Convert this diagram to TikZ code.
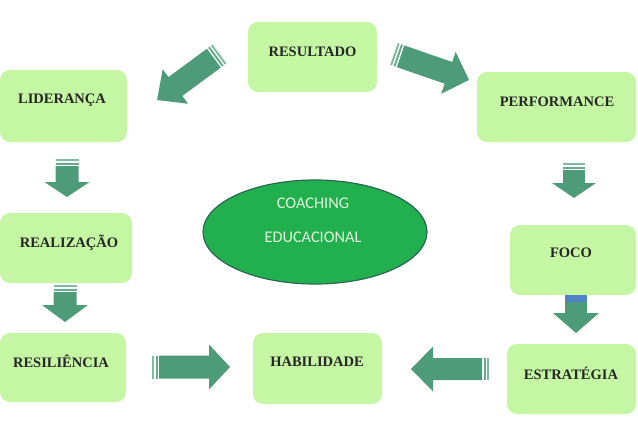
\documentclass[tikz,border=0pt]{standalone}
\usepackage{fontspec}
\usetikzlibrary{shapes.geometric}
\setmainfont{Liberation Serif}
\newfontfamily\calibrifont{Carlito}
\definecolor{boxfill}{RGB}{196,246,163}
\definecolor{arrowc}{RGB}{78,155,122}
\definecolor{ellfill}{RGB}{34,176,78}
\definecolor{elldraw}{RGB}{40,105,85}
\definecolor{elltext}{RGB}{222,244,220}
\definecolor{bluebar}{RGB}{80,130,200}
\tikzset{
  greenbox/.style={fill=boxfill, draw=none, rounded corners=10pt, inner sep=0pt},
  boxlabel/.style={font=\bfseries\fontsize{14.5}{17}\selectfont, text=black!85, inner sep=0pt},
  elllabel/.style={font=\calibrifont\fontsize{16.3}{19}\selectfont, text=elltext, inner sep=0pt}
}
% #1 x, #2 y (tail centre), #3 angle, #4 length, #5 shaft half width, #6 head half width, #7 head length
\newcommand\blockarrow[7]{%
  \begin{scope}[shift={(#1,#2)},rotate=#3]
    \fill[arrowc!70] (0,-#5) rectangle (2,#5);
    \fill[arrowc!85] (3.5,-#5) rectangle (5.5,#5);
    \fill[arrowc] (7,-#5) -- ({#4-#7},-#5) -- ({#4-#7},-#6) -- (#4,0)
      -- ({#4-#7},#6) -- ({#4-#7},#5) -- (7,#5) -- cycle;
  \end{scope}}
\begin{document}
\begin{tikzpicture}[x=1pt,y=-1pt]
\useasboundingbox (0,0) rectangle (638,432);
% boxes
\node[greenbox, minimum width=129pt, minimum height=70pt] (resultado) at (312.5,57) {};
\node[boxlabel] (resultadot) at (312.5,52) {RESULTADO};
\node[greenbox, minimum width=127pt, minimum height=72pt] (lideranca) at (63.5,106) {};
\node[boxlabel] (liderancat) at (62,100) {LIDERANÇA};
\node[greenbox, minimum width=159pt, minimum height=70pt] (performance) at (556.5,107) {};
\node[boxlabel] (performancet) at (557,102) {PERFORMANCE};
\node[greenbox, minimum width=132pt, minimum height=70pt] (realizacao) at (66,248) {};
\node[boxlabel] (realizacaot) at (69,243) {REALIZAÇÃO};
\node[greenbox, minimum width=126pt, minimum height=70pt] (foco) at (573,260) {};
\node[boxlabel] (focot) at (571,253) {FOCO};
\node[greenbox, minimum width=126pt, minimum height=69pt] (resiliencia) at (63,367.5) {};
\node[boxlabel] (resilienciat) at (61,361) {RESILIÊNCIA};
\node[greenbox, minimum width=129pt, minimum height=71pt] (habilidade) at (317.5,368.5) {};
\node[boxlabel] (habilidadet) at (317,362) {HABILIDADE};
\node[greenbox, minimum width=129pt, minimum height=70pt] (estrategia) at (571.5,379) {};
\node[boxlabel] (estrategiat) at (571,373) {ESTRATÉGIA};
% ellipse
\node[ellipse, fill=ellfill, draw=elldraw, line width=1.2pt, minimum width=224pt, minimum height=104pt, inner sep=0pt] (coaching) at (315,232) {};
\node[elllabel] (coachingt1) at (313,203) {COACHING};
\node[elllabel] (coachingt2) at (313,237) {EDUCACIONAL};
% block arrows
\blockarrow{219.5}{54}{216.4}{77.6}{11.7}{21.4}{22.8}
\blockarrow{394}{54}{-19.1}{79.4}{11.5}{22.2}{21.8}
\blockarrow{67}{159}{-90}{38}{11.5}{22.5}{15}
\blockarrow{65}{285}{-90}{37}{11.5}{23}{17}
\blockarrow{574}{163}{-90}{35}{11}{22}{15}
\blockarrow{576}{295}{-90}{38}{11}{23}{20}
\fill[bluebar] (565,295) rectangle (587,302);
\blockarrow{152}{367}{0}{78}{11.5}{22.5}{21}
\blockarrow{489}{369}{180}{78}{11}{22.5}{22}
\end{tikzpicture}
\end{document}
